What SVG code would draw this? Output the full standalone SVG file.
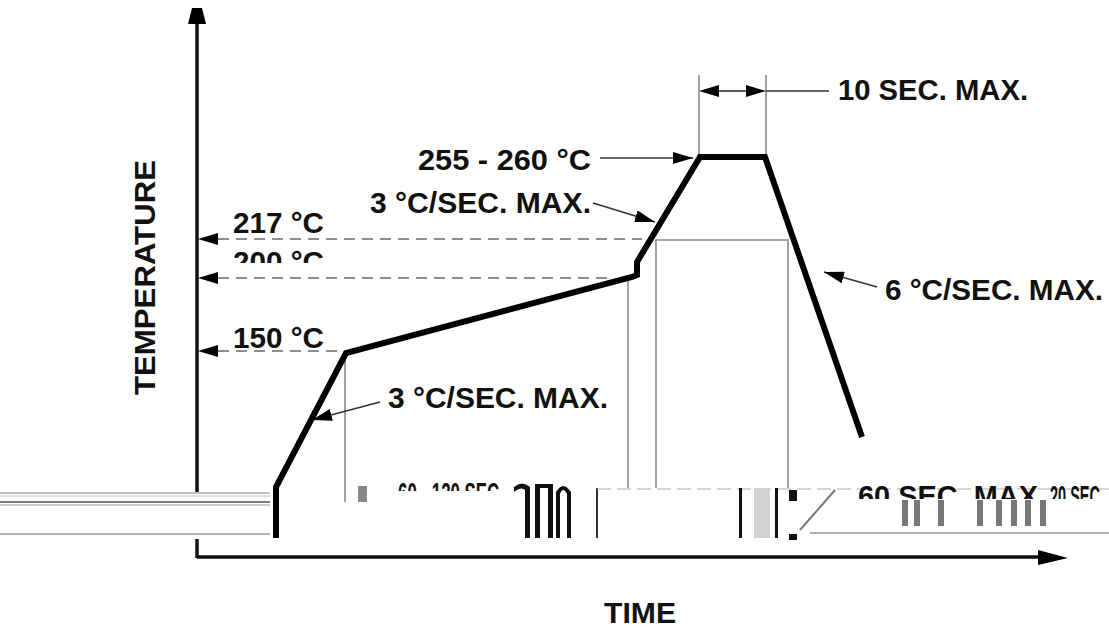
<svg xmlns="http://www.w3.org/2000/svg" width="1109" height="628" viewBox="0 0 1109 628">
  <style>
    .lbl { font-family: "Liberation Sans", Arial, sans-serif; font-weight: bold; font-size: 29px; fill: #111; }
    .axis { stroke: #111; stroke-width: 3.5; fill: none; }
    .thin { stroke: #8a8a8a; stroke-width: 1.6; fill: none; }
    .dash { stroke: #8e8e8e; stroke-width: 2; stroke-dasharray: 11 7; fill: none; }
    .lead { stroke: #333; stroke-width: 1.6; fill: none; }
    .prof { stroke: #000; stroke-width: 6; fill: none; stroke-linejoin: miter; }
    .head { fill: #000; }
  </style>
  <defs>
    <marker id="ah" viewBox="0 0 20 12" refX="20" refY="6" markerWidth="20" markerHeight="12" markerUnits="userSpaceOnUse" orient="auto">
      <path d="M0,0 L20,6 L0,12 Z" fill="#000"/>
    </marker>
    <clipPath id="c200"><rect x="200" y="240" width="160" height="23"/></clipPath>
    <clipPath id="c60"><rect x="390" y="470" width="130" height="21"/></clipPath>
    <clipPath id="c60m"><rect x="840" y="465" width="269" height="34"/></clipPath>
  </defs>
  <rect width="1109" height="628" fill="#fff"/>

  <g id="axes">
    <line class="axis" x1="197" y1="22" x2="197" y2="492"/>
    <line class="axis" x1="197" y1="539" x2="197" y2="558"/>
    <polygon class="head" points="192,8 202,8 206,24 188,24"/>
    <line class="axis" x1="197" y1="557" x2="1042" y2="557"/>
    <polygon class="head" points="1038,550 1068,558 1038,565"/>
  </g>

  <g id="connectors">
    <line class="dash" x1="218" y1="239" x2="642" y2="239"/>
    <polygon class="head" points="198,239 218,233 218,245"/>
    <line class="dash" x1="218" y1="278" x2="612" y2="278"/>
    <polygon class="head" points="198,278 218,272 218,284"/>
    <line class="dash" x1="218" y1="351" x2="340" y2="351"/>
    <polygon class="head" points="198,351 218,345 218,357"/>
    <line class="thin" x1="345" y1="353" x2="345" y2="502"/>
    <line class="thin" x1="628" y1="278" x2="628" y2="488"/>
    <polyline class="thin" points="656,488 656,240 788,240 788,488"/>
    <line class="thin" x1="699" y1="75" x2="699" y2="157"/>
    <line class="thin" x1="766" y1="75" x2="766" y2="157"/>
    <line class="lead" x1="719" y1="91" x2="746" y2="91"/>
    <polygon class="head" points="699,91 719,85 719,97"/>
    <polygon class="head" points="766,91 746,85 746,97"/>
    <line class="lead" x1="766" y1="91" x2="829" y2="91"/>
    <line class="lead" x1="600" y1="158" x2="693" y2="158" marker-end="url(#ah)"/>
    <line class="lead" x1="593" y1="203" x2="655" y2="222" marker-end="url(#ah)"/>
    <line class="lead" x1="380" y1="402" x2="312" y2="420" marker-end="url(#ah)"/>
    <line class="lead" x1="877" y1="287" x2="824" y2="272" marker-end="url(#ah)"/>
  </g>

  <g id="profile">
    <polyline class="prof" points="276,538 276,487 346,353 632,277 637,275 637,262 700,157 765,157 862,437"/>
  </g>

  <g id="label-temperature"><text class="lbl" transform="translate(155,395) rotate(-90)" textLength="235" lengthAdjust="spacingAndGlyphs">TEMPERATURE</text></g>
  <g id="label-time"><text class="lbl" x="604" y="623" textLength="72" lengthAdjust="spacingAndGlyphs">TIME</text></g>
  <g id="label-217"><text class="lbl" x="233" y="233" textLength="91" lengthAdjust="spacingAndGlyphs">217 °C</text></g>
  <g id="label-200"><text class="lbl" x="233" y="272" textLength="91" lengthAdjust="spacingAndGlyphs" clip-path="url(#c200)">200 °C</text></g>
  <g id="label-150"><text class="lbl" x="233" y="348" textLength="91" lengthAdjust="spacingAndGlyphs">150 °C</text></g>
  <g id="label-peak"><text class="lbl" x="418" y="170" textLength="173" lengthAdjust="spacingAndGlyphs">255 - 260 °C</text></g>
  <g id="label-ramp-up"><text class="lbl" x="370" y="213" textLength="221" lengthAdjust="spacingAndGlyphs">3 °C/SEC. MAX.</text></g>
  <g id="label-ramp-pre"><text class="lbl" x="388" y="408" textLength="220" lengthAdjust="spacingAndGlyphs">3 °C/SEC. MAX.</text></g>
  <g id="label-ramp-down"><text class="lbl" x="885" y="300" textLength="218" lengthAdjust="spacingAndGlyphs">6 °C/SEC. MAX.</text></g>
  <g id="label-10sec"><text class="lbl" x="838" y="100" textLength="190" lengthAdjust="spacingAndGlyphs">10 SEC. MAX.</text></g>

  <g id="damaged-band">
    <line x1="0" y1="493" x2="270" y2="493" stroke="#aaa" stroke-width="1.5"/>
    <line x1="0" y1="496" x2="270" y2="496" stroke="#bbb" stroke-width="1"/>
    <line x1="0" y1="502" x2="270" y2="502" stroke="#555" stroke-width="1.6"/>
    <line x1="0" y1="505" x2="270" y2="505" stroke="#999" stroke-width="1"/>
    <line x1="0" y1="534" x2="270" y2="534" stroke="#999" stroke-width="1.6"/>
    <rect x="358" y="486" width="9" height="16" fill="#888"/>
    <text class="lbl" x="398" y="503" textLength="106" lengthAdjust="spacingAndGlyphs" clip-path="url(#c60)">60 - 120 SEC.</text>
    <g fill="#111">
      <path d="M514,487 Q522,480 530,487 L530,538 L525,538 L525,490 Q521,486 514,492 Z"/>
      <rect x="535" y="484" width="5" height="54"/>
      <rect x="548" y="484" width="5" height="54"/>
      <rect x="535" y="484" width="18" height="4"/>
      <path d="M556,538 L556,492 Q563,480 571,492 L571,538 L567,538 L567,494 Q563,486 560,494 L560,538 Z"/>
    </g>
    <line x1="597" y1="488" x2="597" y2="538" stroke="#333" stroke-width="2"/>
    <line x1="597" y1="489" x2="1109" y2="489" stroke="#aaa" stroke-width="1.2" stroke-dasharray="14 6"/>
    <rect x="739" y="488" width="3" height="50" fill="#111"/>
    <rect x="754" y="488" width="16" height="50" fill="#d2d2d2"/>
    <rect x="775" y="488" width="3" height="50" fill="#111"/>
    <rect x="789" y="490" width="8" height="11" fill="#111"/>
    <rect x="789" y="534" width="8" height="6" fill="#111"/>
    <line x1="810" y1="533" x2="1109" y2="533" stroke="#999" stroke-width="1.6"/>
    <line x1="800" y1="530" x2="835" y2="490" stroke="#777" stroke-width="2"/>
    <text class="lbl" x="858" y="506" textLength="188" lengthAdjust="spacingAndGlyphs" clip-path="url(#c60m)">60 SEC. MAX.</text>
    <text class="lbl" x="1050" y="506" textLength="50" lengthAdjust="spacingAndGlyphs" clip-path="url(#c60m)">20 SEC</text>
    <g fill="#777">
      <rect x="902" y="500" width="6" height="26"/>
      <rect x="914" y="500" width="6" height="26"/>
      <rect x="938" y="500" width="6" height="26"/>
      <rect x="977" y="500" width="6" height="26"/>
      <rect x="996" y="500" width="6" height="26"/>
      <rect x="1011" y="500" width="6" height="26"/>
      <rect x="1025" y="500" width="6" height="26"/>
      <rect x="1040" y="500" width="6" height="26"/>
    </g>
  </g>
</svg>
